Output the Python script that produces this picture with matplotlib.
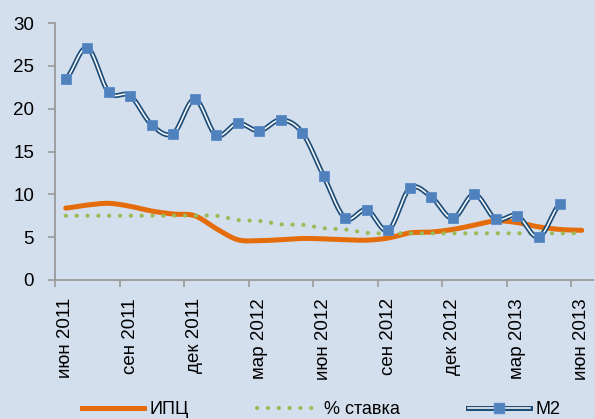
import numpy as np
import matplotlib
matplotlib.use("Agg")
import matplotlib.pyplot as plt
from matplotlib.lines import Line2D
from matplotlib.legend_handler import HandlerTuple

# ---- data ----
months = ["июн 2011", "июл 2011", "авг 2011", "сен 2011", "окт 2011", "ноя 2011",
          "дек 2011", "янв 2012", "фев 2012", "мар 2012", "апр 2012", "май 2012",
          "июн 2012", "июл 2012", "авг 2012", "сен 2012", "окт 2012", "ноя 2012",
          "дек 2012", "янв 2013", "фев 2013", "мар 2013", "апр 2013", "май 2013",
          "июн 2013"]
cpi = [8.4, 8.75, 8.95, 8.6, 8.05, 7.7, 7.5, 6.0, 4.7, 4.6, 4.7, 4.85,
       4.8, 4.7, 4.65, 4.9, 5.5, 5.6, 5.9, 6.4, 6.9, 6.7, 6.2, 5.9, 5.8]
rate = [7.5, 7.5, 7.5, 7.5, 7.5, 7.5, 7.5, 7.5, 7.0, 6.9, 6.5, 6.45,
        6.05, 5.9, 5.5, 5.45, 5.45, 5.45, 5.45, 5.45, 5.45, 5.45, 5.45, 5.45, 5.45]
m2 = [23.5, 27.1, 21.9, 21.5, 18.1, 17.1, 21.1, 16.9, 18.3, 17.4, 18.7, 17.2,
      12.1, 7.2, 8.2, 5.8, 10.7, 9.7, 7.2, 10.0, 7.1, 7.5, 5.0, 8.9]
series_names = ["ИПЦ", "% ставка", "M2"]
yticks = [0, 5, 10, 15, 20, 25, 30]


def smooth(y, n=20):
    """Catmull-Rom smoothing (like Excel's smoothed line)."""
    y = np.asarray(y, float)
    x = np.arange(len(y), dtype=float)
    yp = np.concatenate([[y[0]], y, [y[-1]]])
    xs, ys = [], []
    for i in range(len(y) - 1):
        p0, p1, p2, p3 = yp[i], yp[i + 1], yp[i + 2], yp[i + 3]
        t = np.linspace(0, 1, n, endpoint=False)
        m1 = (p2 - p0) / 2
        m2_ = (p3 - p1) / 2
        h00 = 2 * t**3 - 3 * t**2 + 1
        h10 = t**3 - 2 * t**2 + t
        h01 = -2 * t**3 + 3 * t**2
        h11 = t**3 - t**2
        ys.append(h00 * p1 + h10 * m1 + h01 * p2 + h11 * m2_)
        xs.append(x[i] + t)
    xs.append([x[-1]])
    ys.append([y[-1]])
    return np.concatenate(xs), np.concatenate(ys)


bg = "#D4DFEE"
orange = "#E46C0A"
green = "#9BBB59"
dark = "#1F4E79"
blue = "#4F81BD"

plt.rcParams['font.family'] = ['Liberation Sans', 'DejaVu Sans']

fig = plt.figure(figsize=(5.95, 4.19), dpi=100, facecolor=bg)
ax = fig.add_axes([55 / 595, 1 - 280 / 419, (592.5 - 55) / 595, (280 - 23) / 419])
ax.set_facecolor(bg)

xc, yc = smooth(cpi)
ax.plot(xc, yc, color=orange, lw=3.6, solid_capstyle='round', zorder=2)

xr, yr = smooth(rate)
ax.plot(xr, yr, color=green, lw=3.0, linestyle=(0, (0.05, 2.55)),
        dash_capstyle='round', zorder=3)

xm, ym = smooth(m2)
ax.plot(xm, ym, color=dark, lw=3.6, zorder=4, solid_joinstyle='round')
ax.plot(xm, ym, color='white', lw=1.1, zorder=5, solid_joinstyle='round')
ax.plot(np.arange(len(m2)), m2, ls='none', marker='s', ms=6.8,
        mfc=blue, mec="#5A8AC6", mew=0.6, zorder=6)

ax.set_xlim(-0.5, len(months) - 0.5)
ax.set_ylim(0, 30)
ax.set_yticks(yticks)
ax.set_yticklabels([str(v) for v in yticks], fontsize=13.5)

major = np.arange(-0.5, len(months) - 1, 3)
ax.set_xticks(major)
ax.set_xticklabels([])
lab_pos = np.arange(0, len(months), 3)
ax.set_xticks(lab_pos, minor=True)
ax.set_xticklabels([months[i] for i in lab_pos], minor=True, rotation=90,
                   fontsize=13.5, va='top', ha='center')
ax.tick_params(axis='x', which='minor', length=0, pad=13)
ax.tick_params(axis='x', which='major', length=5, color="#9A9A9A", width=1.2)
ax.tick_params(axis='y', length=5, color="#9A9A9A", width=1.2, pad=10)

for s in ['top', 'right']:
    ax.spines[s].set_visible(False)
for s in ['left', 'bottom']:
    ax.spines[s].set_color("#9A9A9A")
    ax.spines[s].set_linewidth(1.3)

h1 = Line2D([], [], color=orange, lw=3.6)
h2 = Line2D([], [], color=green, lw=3.0, linestyle=(0, (0.05, 2.55)), dash_capstyle='round')
h3 = (Line2D([], [], color=dark, lw=3.6), Line2D([], [], color='white', lw=1.1),
      Line2D([], [], ls='none', marker='s', ms=6.8, mfc=blue, mec="#5A8AC6"))
fig.legend([h1, h2, h3], series_names, loc='center', bbox_to_anchor=(0.54, 0.022),
           ncol=3, frameon=False, fontsize=13, handlelength=3.4, handletextpad=0.3,
           columnspacing=3.8, handler_map={tuple: HandlerTuple(ndivide=1)})

fig.savefig("out.png", dpi=100, facecolor=bg)
